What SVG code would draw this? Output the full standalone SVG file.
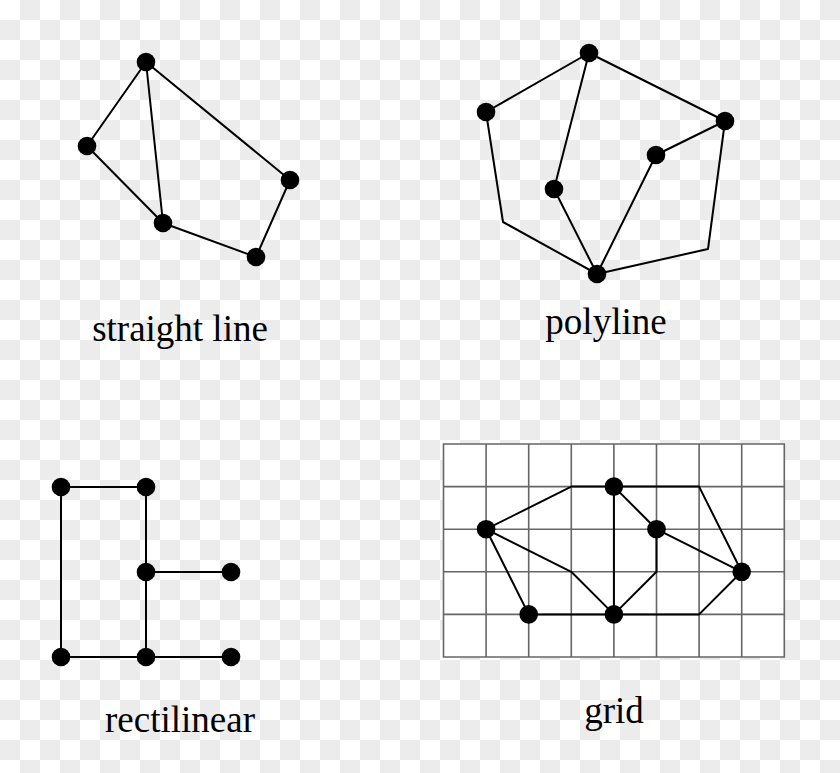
<svg xmlns="http://www.w3.org/2000/svg" width="840" height="773" viewBox="0 0 840 773">
<style>
.e{fill:none;stroke:#000;stroke-width:2;stroke-linejoin:round}
.n{fill:#000}
.g{fill:none;stroke:#666;stroke-width:1.6}
.t{font-family:"Liberation Serif","Times New Roman",serif;font-size:37px;fill:#000;text-anchor:middle}
</style>
<defs>
<pattern id="chk" width="40" height="40" patternUnits="userSpaceOnUse">
<rect width="40" height="40" fill="#fff"/>
<rect x="20" y="0" width="20" height="20" fill="#ececec"/>
<rect x="0" y="20" width="20" height="20" fill="#ececec"/>
</pattern>
</defs>
<rect width="840" height="773" fill="url(#chk)"/>

<g id="grid-bg">
<rect x="443.5" y="444" width="340.8" height="213" fill="#fff"/>
<path class="g" d="M443.5,444H784.3V657H443.5Z M486.1,444V657 M528.7,444V657 M571.3,444V657 M613.9,444V657 M656.5,444V657 M699.1,444V657 M741.7,444V657 M443.5,486.6H784.3 M443.5,529.2H784.3 M443.5,571.8H784.3 M443.5,614.4H784.3"/>
</g>

<g id="connectors">
<!-- straight line -->
<path class="e" d="M146,62L87,146 M146,62L163,223 M146,62L290,180 M87,146L163,223 M163,223L256,257 M290,180L256,257"/>
<!-- polyline -->
<path class="e" d="M589,53L486,112 M589,53L725,121 M589,53L554,189 M554,189L597,274 M656,155L725,121 M656,155L597,274 M486,112L503,222L597,274 M725,121L708,249L597,274"/>
<!-- rectilinear -->
<path class="e" d="M61,487H146 M61,487V657 M146,487V657 M146,572H231 M61,657H231"/>
<!-- grid -->
<path class="e" d="M486.1,529.2L571.3,486.6H613.9 M613.9,486.6H699.1L741.7,571.8 M613.9,486.6V614.4 M613.9,486.6L656.5,529.2 M656.5,529.2L741.7,571.8 M656.5,529.2V571.8L613.9,614.4 M486.1,529.2L571.3,571.8L613.9,614.4 M486.1,529.2L528.7,614.4 M528.7,614.4H613.9 M613.9,614.4H699.1L741.7,571.8"/>
</g>

<g id="straight-line">
<circle id="s1" class="n" cx="146" cy="62" r="9.3"/>
<circle id="s2" class="n" cx="87" cy="146" r="9.3"/>
<circle id="s3" class="n" cx="163" cy="223" r="9.3"/>
<circle id="s4" class="n" cx="290" cy="180" r="9.3"/>
<circle id="s5" class="n" cx="256" cy="257" r="9.3"/>
<text class="t" x="180" y="341">straight line</text>
</g>

<g id="polyline">
<circle id="p1" class="n" cx="589" cy="53" r="9.3"/>
<circle id="p2" class="n" cx="486" cy="112" r="9.3"/>
<circle id="p3" class="n" cx="725" cy="121" r="9.3"/>
<circle id="p4" class="n" cx="656" cy="155" r="9.3"/>
<circle id="p5" class="n" cx="554" cy="189" r="9.3"/>
<circle id="p6" class="n" cx="597" cy="274" r="9.3"/>
<text class="t" x="606" y="334">polyline</text>
</g>

<g id="rectilinear">
<circle id="r1" class="n" cx="61" cy="487" r="9.3"/>
<circle id="r2" class="n" cx="146" cy="487" r="9.3"/>
<circle id="r3" class="n" cx="146" cy="572" r="9.3"/>
<circle id="r4" class="n" cx="231" cy="572" r="9.3"/>
<circle id="r5" class="n" cx="61" cy="657" r="9.3"/>
<circle id="r6" class="n" cx="146" cy="657" r="9.3"/>
<circle id="r7" class="n" cx="231" cy="657" r="9.3"/>
<text class="t" x="180" y="732">rectilinear</text>
</g>

<g id="grid">
<circle id="g1" class="n" cx="486.1" cy="529.2" r="9.3"/>
<circle id="g2" class="n" cx="613.9" cy="486.6" r="9.3"/>
<circle id="g3" class="n" cx="656.5" cy="529.2" r="9.3"/>
<circle id="g4" class="n" cx="741.7" cy="571.8" r="9.3"/>
<circle id="g5" class="n" cx="528.7" cy="614.4" r="9.3"/>
<circle id="g6" class="n" cx="613.9" cy="614.4" r="9.3"/>
<text class="t" x="614" y="723">grid</text>
</g>
</svg>
